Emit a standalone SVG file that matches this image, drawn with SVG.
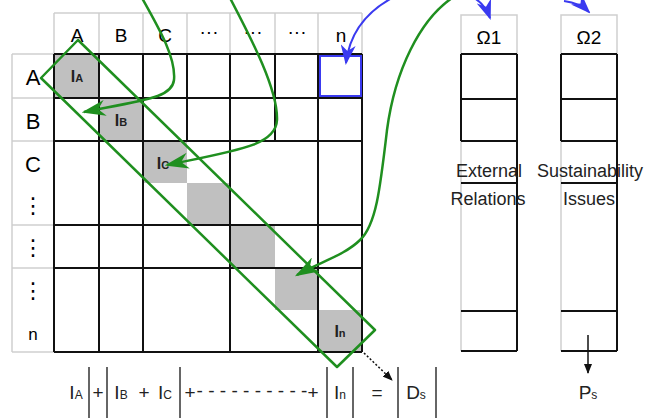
<svg xmlns="http://www.w3.org/2000/svg" width="649" height="418" viewBox="0 0 649 418">
<defs>
<style>
text{font-family:"Liberation Sans","DejaVu Sans",sans-serif;fill:#000}
.hd{font-size:19px;text-anchor:middle}
.rl{font-size:22px;text-anchor:middle}
.cl{font-size:16px;text-anchor:middle;font-weight:bold;fill:#222}
.eq{font-size:19px;text-anchor:middle;fill:#222}
.lbl{font-size:18px;text-anchor:middle;fill:#222}
.lg{fill:none;stroke:#cfcfcf;stroke-width:1.5}
.bk{fill:none;stroke:#111;stroke-width:2}
.gray{fill:#c0c0c0}
.grn{fill:none;stroke:#1f8f1f;stroke-width:2.5}
.blu{fill:none;stroke:#3a3af0;stroke-width:2}
.sep{stroke:#666;stroke-width:2}
</style>
<marker id="ag" viewBox="0 0 10 10" preserveAspectRatio="none" refX="9" refY="5" markerWidth="24" markerHeight="16" markerUnits="userSpaceOnUse" orient="auto"><path d="M0,0 L10,5 L0,10 L3,5 Z" fill="#1f8f1f"/></marker>
<marker id="ab" viewBox="0 0 10 10" preserveAspectRatio="none" refX="9" refY="5" markerWidth="20" markerHeight="15" markerUnits="userSpaceOnUse" orient="auto"><path d="M0,0 L10,5 L0,10 L3,5 Z" fill="#3a3af0"/></marker>
<marker id="ak" viewBox="0 0 10 10" preserveAspectRatio="none" refX="9" refY="5" markerWidth="10" markerHeight="8" markerUnits="userSpaceOnUse" orient="auto"><path d="M0,0 L10,5 L0,10 Z" fill="#111"/></marker>
</defs>
<rect width="649" height="418" fill="#fff"/>

<g id="matrix">
<path class="lg" d="M54,13 H362 M54,13 V54 M99,13 V54 M143,13 V54 M187,13 V54 M230,13 V54 M275,13 V54 M318,13 V54 M362,13 V54"/>
<path class="lg" d="M12,54 H54 M12,54 V352 M12,98 H54 M12,141 H54 M12,225 H54 M12,268 H54 M12,352 H54"/>
<text class="hd" x="77" y="42">A</text>
<text class="hd" x="121" y="42">B</text>
<text class="hd" x="165" y="42">C</text>
<text class="hd" x="209" y="38">···</text>
<text class="hd" x="253" y="38">···</text>
<text class="hd" x="297" y="38">···</text>
<text class="hd" x="341" y="42">n</text>
<text class="rl" x="33" y="85">A</text>
<text class="rl" x="33" y="129">B</text>
<text class="rl" x="33" y="172">C</text>
<text class="rl" x="33" y="213">⋮</text>
<text class="rl" x="33" y="255">⋮</text>
<text class="rl" x="33" y="298">⋮</text>
<text class="rl" x="33" y="340" style="font-size:17px">n</text>
<rect class="gray" x="54" y="54" width="45" height="44"/>
<rect class="gray" x="99" y="98" width="44" height="43"/>
<rect class="gray" x="143" y="141" width="44" height="42"/>
<rect class="gray" x="187" y="183" width="43" height="42"/>
<rect class="gray" x="230" y="225" width="45" height="43"/>
<rect class="gray" x="275" y="268" width="43" height="42"/>
<rect class="gray" x="318" y="310" width="44" height="42"/>
<text class="cl" x="77" y="82">I<tspan font-size="11">A</tspan></text>
<text class="cl" x="121" y="126">I<tspan font-size="11">B</tspan></text>
<text class="cl" x="163" y="169">I<tspan font-size="11">C</tspan></text>
<text class="cl" x="340" y="337">I<tspan font-size="11">n</tspan></text>
<path class="bk" d="M54,54 H362 M54,98 H362 M54,141 H362 M54,225 H362 M54,268 H362 M54,352 H362 M54,54 V352 M99,54 V352 M143,54 V352 M187,54 V141 M230,54 V141 M230,141 V352 M275,54 V141 M318,54 V352 M362,54 V352"/>
<rect x="320" y="56" width="41" height="40" fill="none" stroke="#3a3af0" stroke-width="2"/>
</g>

<g id="omega1">
<rect class="lg" x="461" y="15" width="56" height="39"/>
<text class="hd" x="489" y="44">Ω1</text>
<path class="lg" d="M461,141 V351"/>
<path class="bk" d="M461,54 H517 M461,99 H517 M461,141 H517 M461,54 V141 M517,54 V351 M461,183 H517 M461,311 H517 M461,351 H517"/>
<text class="lbl" x="489" y="177">External</text>
<text class="lbl" x="488" y="205">Relations</text>
</g>

<g id="omega2">
<rect class="lg" x="561" y="15" width="56" height="39"/>
<text class="hd" x="589" y="44">Ω2</text>
<path class="lg" d="M561,141 V351"/>
<path class="bk" d="M561,54 H617 M561,99 H617 M561,141 H617 M561,54 V141 M617,54 V351 M561,183 H617 M561,311 H617 M561,351 H617"/>
<text class="lbl" x="590" y="177">Sustainability</text>
<text class="lbl" x="589" y="205">Issues</text>
</g>

<g id="equation">
<path class="sep" d="M89,367 V418 M107,367 V418 M180,367 V418 M327,367 V418 M353,367 V418 M398,367 V418 M436,367 V418"/>
<text class="eq" x="76" y="399">I<tspan font-size="12">A</tspan></text>
<text class="eq" x="98" y="399">+</text>
<text class="eq" x="121" y="399">I<tspan font-size="12">B</tspan></text>
<text class="eq" x="144" y="399">+</text>
<text class="eq" x="165" y="399">I<tspan font-size="12">C</tspan></text>
<text class="eq" x="190" y="399">+</text>
<text class="eq" x="252" y="397">- - - - - - - - - -</text>
<text class="eq" x="313" y="399">+</text>
<text class="eq" x="340" y="399">I<tspan font-size="12">n</tspan></text>
<text class="eq" x="377" y="399">=</text>
<text class="eq" x="416" y="399">D<tspan font-size="12">s</tspan></text>
<text class="eq" x="588" y="399">P<tspan font-size="12">s</tspan></text>
</g>

<g id="connectors">
<path class="grn" d="M78,40 L375,330 L337,367 L41,78 Z" stroke-linejoin="round"/>
<path class="grn" d="M142,-2 C160,30 176,58 174,80 C172,97 150,99 84,112" marker-end="url(#ag)"/>
<path class="grn" d="M230,-2 C252,40 278,90 277,120 C276,145 240,150 167,165" marker-end="url(#ag)"/>
<path class="grn" d="M452,-2 C420,20 395,70 387,130 C380,190 376,225 360,240 C345,255 320,262 297,275" marker-end="url(#ag)"/>
<path class="blu" d="M392,-2 C370,10 350,30 346,63" marker-end="url(#ab)"/>
<path class="blu" d="M474,-2 Q485,4 490,18" marker-end="url(#ab)"/>
<path class="blu" d="M564,1 Q580,3 589,12" marker-end="url(#ab)"/>
<path d="M364,353 L392,380" stroke="#111" stroke-width="1.5" stroke-dasharray="2,2" fill="none" marker-end="url(#ak)"/>
<path d="M588,335 L588,373" stroke="#111" stroke-width="1.5" fill="none" marker-end="url(#ak)"/>
</g>
</svg>
